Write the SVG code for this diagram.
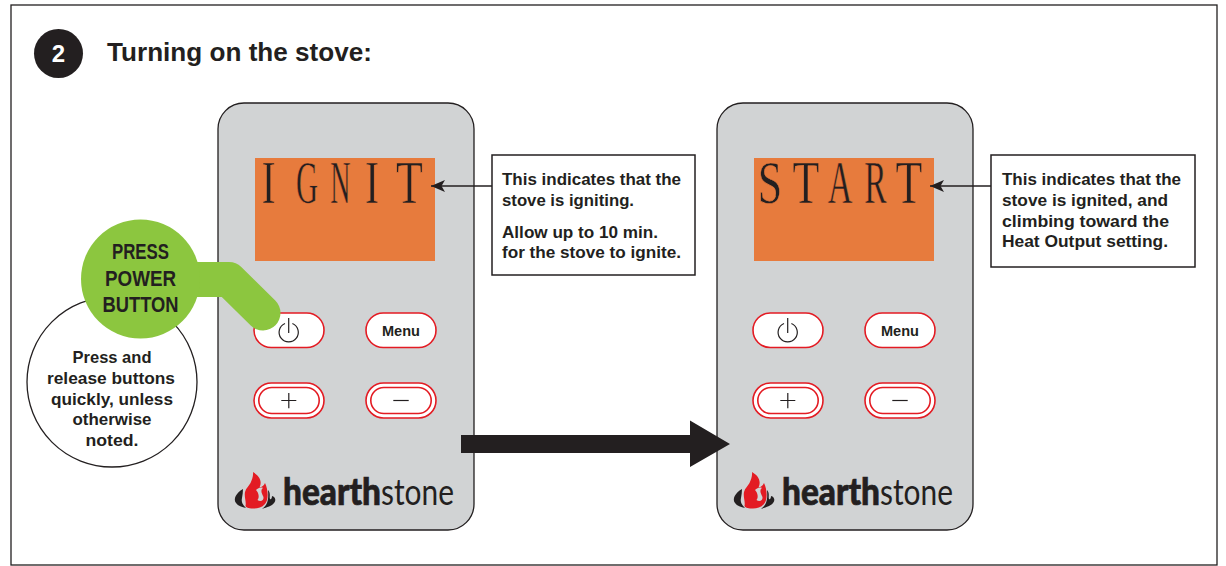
<svg xmlns="http://www.w3.org/2000/svg" width="1226" height="566" viewBox="0 0 1226 566">
<style>
text{font-family:"Liberation Sans",Arial,sans-serif;font-weight:700;fill:#231f20}
.panel{fill:#d1d3d4;stroke:#231f20;stroke-width:1.3}
.screen{fill:#e77b3d}
.btn{fill:#fff;stroke:#e31b23;stroke-width:1.6}
.glyph{fill:none;stroke:#231f20;stroke-width:1.2}
text.lcd{font-family:"Liberation Serif",serif;font-weight:400;font-size:61px;text-anchor:middle;stroke:#e77b3d;stroke-width:.6px}
.note{font-size:16px}
.tip{font-size:17px}
.call{font-size:22px}
.box{fill:#fff;stroke:#231f20;stroke-width:1.5}
.conn{stroke:#231f20;stroke-width:1.4;fill:none}
text.w1{font-family:Lato,"Liberation Sans",sans-serif;font-weight:900;font-size:37px;stroke:#231f20;stroke-width:.7px}
text.w2{font-family:Lato,"Liberation Sans",sans-serif;font-weight:400;font-size:37px}
</style>
<defs>
<marker id="ah" markerUnits="userSpaceOnUse" markerWidth="14" markerHeight="12" refX="14" refY="6" orient="auto">
<path d="M0 0 L14 6 L0 12 L3.500 6Z" fill="#231f20"/>
</marker>
<g id="buttons">
<rect class="btn" x="254" y="313" width="70" height="34.500" rx="17.200"/>
<path class="glyph" d="M285 323.500A9.600 9.600 0 1 0 292.400 323.500M288.700 318V333"/>
<rect class="btn" x="366" y="313" width="70" height="34.500" rx="17.200"/>
<text x="401" y="336" text-anchor="middle" font-size="15" textLength="38" lengthAdjust="spacingAndGlyphs">Menu</text>
<rect class="btn" x="254" y="383" width="70" height="35" rx="17.500"/>
<rect class="btn" x="258.800" y="387.500" width="60.400" height="26" rx="13"/>
<path class="glyph" d="M281.300 400.500H296.300M288.800 393V408.300"/>
<rect class="btn" x="366" y="383" width="70" height="35" rx="17.500"/>
<rect class="btn" x="370.800" y="387.500" width="60.400" height="26" rx="13"/>
<path class="glyph" d="M393.300 400.500H408.700"/>
</g>
<g id="logo">
<path fill="#e31b23" d="M253 472C258 475 263 480 259.500 487.500C262 487 264 485.500 265 483C268.500 490 268.500 500 265 504C262 507.500 258 508.500 254 508.500C250 508.500 246.500 508 245.500 506C246.500 502 244 497 245 492C246 488 249 486 250.500 483C252 480 253.500 476 253 472Z"/>
<path fill="#d1d3d4" d="M256 490C258 488 261 487 263 488C260 490 262 494 263.500 497C264 501 260 502 257.500 500C259.500 498 259 493 256 490Z"/>
<path fill="#231f20" d="M243 489C236 493 233 499 236 503C238 506 242 507 246 508C243 505 241 502 242 498C242.500 495 243 492 243 489Z"/>
<path fill="#231f20" d="M268 490C271 493 269 497 270 499C271 500 272 498 272 496C276 497 276 501 274 503C272 506 267 507 262 509C267 505 269 501 268 490Z"/>
<text class="w1" x="283" y="505" textLength="98" lengthAdjust="spacingAndGlyphs">hearth</text>
<text class="w2" x="381" y="505" textLength="73" lengthAdjust="spacingAndGlyphs">stone</text>
</g>
</defs>
<rect id="frame" x="11" y="5" width="1206" height="560" fill="#fff" stroke="#231f20" stroke-width="1.3"/>
<g id="header">
<circle cx="58.500" cy="53.500" r="24.500" fill="#231f20"/>
<text x="58.500" y="62" text-anchor="middle" font-size="24" style="fill:#fff">2</text>
<text x="107" y="61" font-size="26" textLength="265" lengthAdjust="spacingAndGlyphs">Turning on the stove:</text>
</g>
<g id="panel-ignit">
<rect class="panel" x="218" y="103" width="256" height="427" rx="26"/>
<rect class="screen" x="255" y="158" width="180" height="103"/>
<text class="lcd" transform="translate(268.500 203) scale(.7 1)">I</text>
<text class="lcd" transform="translate(307 203) scale(.5 1)">G</text>
<text class="lcd" transform="translate(340.500 203) scale(.46 1)">N</text>
<text class="lcd" transform="translate(372 203) scale(.7 1)">I</text>
<text class="lcd" transform="translate(409.500 203) scale(.72 1)">T</text>
<use href="#buttons"/>
<use href="#logo"/>
</g>
<g id="panel-start">
<rect class="panel" x="717" y="103" width="256" height="427" rx="26"/>
<rect class="screen" x="754" y="158" width="180" height="103"/>
<text class="lcd" transform="translate(770 203) scale(.72 1)">S</text>
<text class="lcd" transform="translate(806 203) scale(.72 1)">T</text>
<text class="lcd" transform="translate(840 203) scale(.56 1)">A</text>
<text class="lcd" transform="translate(875.500 203) scale(.55 1)">R</text>
<text class="lcd" transform="translate(909 203) scale(.72 1)">T</text>
<use href="#buttons" x="499"/>
<use href="#logo" x="499"/>
</g>
<g id="connectors">
<path class="conn" d="M492 186H431" marker-end="url(#ah)"/>
<path class="conn" d="M991 186H930" marker-end="url(#ah)"/>
<path fill="#231f20" d="M461 435H690V420.500L730 444L690 467V453H461Z"/>
</g>
<g id="note-ignit">
<rect class="box" x="492" y="155" width="203" height="120"/>
<text class="note" x="502" y="185" textLength="179" lengthAdjust="spacingAndGlyphs">This indicates that the</text>
<text class="note" x="502" y="206" textLength="132" lengthAdjust="spacingAndGlyphs">stove is igniting.</text>
<text class="note" x="502" y="238" textLength="156" lengthAdjust="spacingAndGlyphs">Allow up to 10 min.</text>
<text class="note" x="502" y="258" textLength="179" lengthAdjust="spacingAndGlyphs">for the stove to ignite.</text>
</g>
<g id="note-start">
<rect class="box" x="991" y="155" width="204" height="112"/>
<text class="note" x="1002" y="185" textLength="179" lengthAdjust="spacingAndGlyphs">This indicates that the</text>
<text class="note" x="1002" y="206" textLength="166" lengthAdjust="spacingAndGlyphs">stove is ignited, and</text>
<text class="note" x="1002" y="227" textLength="167" lengthAdjust="spacingAndGlyphs">climbing toward the</text>
<text class="note" x="1002" y="247" textLength="166" lengthAdjust="spacingAndGlyphs">Heat Output setting.</text>
</g>
<g id="tip">
<circle cx="112" cy="382" r="85" fill="#fff" stroke="#231f20" stroke-width="1.3"/>
<g text-anchor="middle">
<text class="tip" x="112" y="363" textLength="79" lengthAdjust="spacingAndGlyphs">Press and</text>
<text class="tip" x="111" y="384" textLength="128" lengthAdjust="spacingAndGlyphs">release buttons</text>
<text class="tip" x="112" y="405" textLength="122" lengthAdjust="spacingAndGlyphs">quickly, unless</text>
<text class="tip" x="112" y="425" textLength="79" lengthAdjust="spacingAndGlyphs">otherwise</text>
<text class="tip" x="112" y="446" textLength="53" lengthAdjust="spacingAndGlyphs">noted.</text>
</g>
</g>
<g id="callout">
<path d="M140 279.500H229L263 313" fill="none" stroke="#8cc63f" stroke-width="35" stroke-linecap="round" stroke-linejoin="round"/>
<circle cx="140.500" cy="279" r="59.500" fill="#8cc63f"/>
<g text-anchor="middle">
<text class="call" x="140.500" y="259" textLength="57" lengthAdjust="spacingAndGlyphs">PRESS</text>
<text class="call" x="140.500" y="286" textLength="71" lengthAdjust="spacingAndGlyphs">POWER</text>
<text class="call" x="140.500" y="312" textLength="76" lengthAdjust="spacingAndGlyphs">BUTTON</text>
</g>
</g>
</svg>
